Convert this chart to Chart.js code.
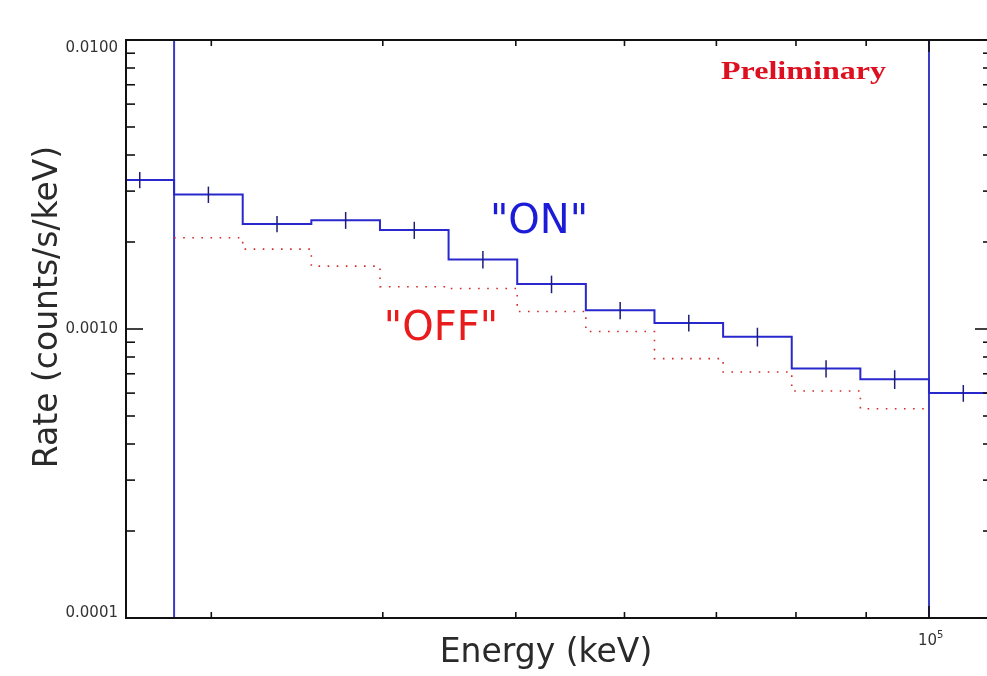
<!DOCTYPE html>
<html><head><meta charset="utf-8">
<script src="https://cdn.jsdelivr.net/npm/chart.js@4.4.1/dist/chart.umd.min.js"></script>
<style>
html,body{margin:0;padding:0;background:#fff;overflow:hidden;width:987px;height:676px;}
#wrap{position:absolute;left:0;top:0;width:1000px;height:676px;}
</style></head><body>
<div id="wrap"><canvas id="c" width="1000" height="676"></canvas></div>
<script>
// ---- data (energy in keV, rate in counts/s/keV) ----
const binEdges   = [25119, 28184, 31623, 35481, 39811, 44668, 50119, 56234, 63096, 70795, 79433, 89125, 100000, 112202];
const binCenters = [26607, 29854, 33497, 37584, 42170, 47315, 53088, 59566, 66834, 74989, 84140, 94406, 105925];
const onRate  = [0.00328, 0.00292, 0.00231, 0.00238, 0.00220, 0.00174, 0.00143, 0.00116, 0.00105, 0.00094, 0.00073, 0.00067, 0.00060];
const onErr   = [0.00021, 0.00019, 0.00015, 0.00016, 0.00015, 0.00012, 0.00010, 0.00008, 0.00007, 0.00007, 0.00005, 0.00005, 0.00004];
const offRate = [null, 0.00207, 0.00189, 0.00165, 0.00140, 0.00138, 0.00115, 0.00098, 0.00079, 0.00071, 0.00061, 0.00053, null];
const rangeMarks = [28184, 100000];
const xTickValues = [30000, 40000, 50000, 60000, 70000, 80000, 90000, 100000];
const xMajorValues = [100000];
const yTickValues = [0.0001,0.0002,0.0003,0.0004,0.0005,0.0006,0.0007,0.0008,0.0009,
                     0.001,0.002,0.003,0.004,0.005,0.006,0.007,0.008,0.009,0.01];
const yMajorValues = [0.0001, 0.001, 0.01];
const yTickLabels  = ['0.0001', '0.0010', '0.0100'];
const xRange = [26000, 111150];
const yRange = [0.0001, 0.01];

// ---- build datasets ----
const onPts = binEdges.map((e, i) => ({x: e, y: onRate[Math.min(i, onRate.length - 1)]}));
const offPts = [];
for (let i = 0; i < offRate.length; i++) {
  if (offRate[i] !== null) offPts.push({x: binEdges[i], y: offRate[i]});
}
{ let last = offRate.length - 1; while (offRate[last] === null) last--; offPts.push({x: binEdges[last + 1], y: offRate[last]}); }

const rangeSets = rangeMarks.map(m => ({
  data: [{x: m, y: yRange[0]}, {x: m, y: yRange[1]}],
  borderColor: '#3a3ac8', borderWidth: 2, pointRadius: 0, fill: false
}));

const framePlugin = {
  id: 'frame',
  afterDatasetsDraw(chart) {
    const {ctx, chartArea: a, scales: {x, y}} = chart;
    const line = (x1, y1, x2, y2) => { ctx.beginPath(); ctx.moveTo(x1, y1); ctx.lineTo(x2, y2); ctx.stroke(); };
    ctx.save();
    // error bars
    ctx.save();
    ctx.beginPath(); ctx.rect(a.left, a.top, a.right - a.left, a.bottom - a.top); ctx.clip();
    ctx.strokeStyle = '#1e1e78'; ctx.lineWidth = 1.5;
    binCenters.forEach((c, i) => {
      const px = x.getPixelForValue(c);
      line(px, y.getPixelForValue(onRate[i] + onErr[i]), px, y.getPixelForValue(onRate[i] - onErr[i]));
    });
    ctx.restore();
    // frame
    ctx.strokeStyle = '#111'; ctx.lineWidth = 2;
    ctx.strokeRect(a.left, a.top, a.right - a.left, a.bottom - a.top);
    ctx.lineWidth = 1.6;
    y.ticks.forEach(t => {
      const py = y.getPixelForValue(t.value);
      const len = t.major ? 17 : 9;
      line(a.left, py, a.left + len, py);
      line(a.right, py, a.right - len, py);
    });
    x.ticks.forEach(t => {
      const px = x.getPixelForValue(t.value);
      const len = t.major ? 12 : 6;
      line(px, a.bottom, px, a.bottom - len);
      line(px, a.top, px, a.top + len);
    });
    // y tick labels
    ctx.fillStyle = '#333';
    ctx.font = '15px "DejaVu Sans"';
    ctx.textAlign = 'right'; ctx.textBaseline = 'middle';
    yMajorValues.forEach((v, i) => {
      let py = y.getPixelForValue(v);
      py = Math.min(Math.max(py, a.top + 8), a.bottom - 5);
      ctx.fillText(yTickLabels[i], a.left - 8, py);
    });
    // x tick label 10^5
    xMajorValues.forEach(v => {
      const px = x.getPixelForValue(v);
      ctx.textAlign = 'right'; ctx.textBaseline = 'alphabetic';
      ctx.font = '15px "DejaVu Sans"';
      ctx.fillText('10', px + 8, a.bottom + 27);
      ctx.textAlign = 'left';
      ctx.font = '10px "DejaVu Sans"';
      ctx.fillText('5', px + 8, a.bottom + 20);
    });
    // axis titles
    ctx.fillStyle = '#2a2a2a';
    ctx.font = '33px "DejaVu Sans"';
    ctx.textAlign = 'center'; ctx.textBaseline = 'alphabetic';
    ctx.fillText('Energy (keV)', 546, 662);
    ctx.save();
    ctx.translate(57, 307); ctx.rotate(-Math.PI / 2);
    ctx.fillText('Rate (counts/s/keV)', 0, 0);
    ctx.restore();
    // annotations
    ctx.font = '40px "DejaVu Sans"';
    ctx.fillStyle = '#1c1cd8';
    ctx.fillText('"ON"', 539, 233);
    ctx.fillStyle = '#e81c1c';
    ctx.fillText('"OFF"', 441, 340);
    // Preliminary
    ctx.save();
    ctx.font = 'bold 26px "Liberation Serif"';
    const w = ctx.measureText('Preliminary').width;
    ctx.translate(721, 79);
    ctx.scale(165 / w, 1);
    ctx.textAlign = 'left';
    ctx.fillStyle = '#dc1020';
    ctx.fillText('Preliminary', 0, 0);
    ctx.restore();
    ctx.restore();
  }
};

new Chart(document.getElementById('c'), {
  type: 'line',
  data: {
    datasets: [
      {data: onPts, stepped: true, borderColor: '#2828cc', borderWidth: 2, pointRadius: 0, fill: false},
      {data: offPts, stepped: true, borderColor: '#d42a2a', borderWidth: 1.6, borderDash: [1.6, 7.5], pointRadius: 0, fill: false},
      ...rangeSets
    ]
  },
  options: {
    responsive: false, animation: false, devicePixelRatio: 1,
    layout: {padding: {left: 0, right: 8, top: 40, bottom: 0}},
    plugins: {legend: {display: false}, tooltip: {enabled: false}},
    scales: {
      x: {
        type: 'logarithmic', min: xRange[0], max: xRange[1],
        afterBuildTicks: s => { s.ticks = xTickValues.map(v => ({value: v, major: xMajorValues.includes(v)})); },
        afterFit: s => { s.height = 58; },
        ticks: {display: false}, grid: {display: false}, border: {display: false}
      },
      y: {
        type: 'logarithmic', min: yRange[0], max: yRange[1],
        afterBuildTicks: s => { s.ticks = yTickValues.map(v => ({value: v, major: yMajorValues.includes(v)})); },
        afterFit: s => { s.width = 126; },
        ticks: {display: false}, grid: {display: false}, border: {display: false}
      }
    }
  },
  plugins: [framePlugin]
});
</script>
</body></html>
